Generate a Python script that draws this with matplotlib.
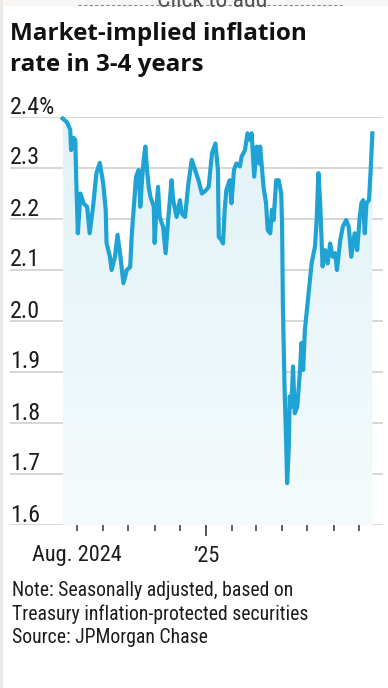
import numpy as np
import pandas as pd
import matplotlib
matplotlib.use("Agg")
import matplotlib.pyplot as plt
import matplotlib.dates as mdates
from matplotlib import font_manager as fm
from matplotlib.transforms import ScaledTranslation
from matplotlib.patches import Rectangle
from matplotlib.lines import Line2D
from matplotlib.colors import LinearSegmentedColormap

# ---------------- data ----------------
dates = [
    "2024-07-15", "2024-07-20", "2024-07-24", "2024-07-25", "2024-07-28", "2024-07-30",
    "2024-07-31", "2024-08-02", "2024-08-05", "2024-08-09", "2024-08-13", "2024-08-16",
    "2024-08-20", "2024-08-24", "2024-08-28", "2024-09-01", "2024-09-04", "2024-09-05",
    "2024-09-09", "2024-09-11", "2024-09-15", "2024-09-18", "2024-09-21", "2024-09-25",
    "2024-09-29", "2024-10-03", "2024-10-05", "2024-10-08", "2024-10-10", "2024-10-13",
    "2024-10-15", "2024-10-17", "2024-10-19", "2024-10-21", "2024-10-23", "2024-10-25",
    "2024-10-27", "2024-10-31", "2024-11-01", "2024-11-03", "2024-11-05", "2024-11-07",
    "2024-11-11", "2024-11-14", "2024-11-17", "2024-11-21", "2024-11-23", "2024-11-27",
    "2024-12-01", "2024-12-03", "2024-12-07", "2024-12-11", "2024-12-15", "2024-12-19",
    "2024-12-23", "2024-12-27", "2024-12-31", "2025-01-04", "2025-01-08", "2025-01-12",
    "2025-01-15", "2025-01-16", "2025-01-19", "2025-01-21", "2025-01-23", "2025-01-25",
    "2025-01-29", "2025-01-31", "2025-02-03", "2025-02-06", "2025-02-10", "2025-02-12",
    "2025-02-16", "2025-02-19", "2025-02-22", "2025-02-24", "2025-02-27", "2025-03-02",
    "2025-03-05", "2025-03-06", "2025-03-10", "2025-03-13", "2025-03-15", "2025-03-18",
    "2025-03-20", "2025-03-22", "2025-03-25", "2025-03-28", "2025-03-31", "2025-04-01",
    "2025-04-02", "2025-04-04", "2025-04-06", "2025-04-07", "2025-04-09", "2025-04-10",
    "2025-04-12", "2025-04-14", "2025-04-16", "2025-04-19", "2025-04-22", "2025-04-24",
    "2025-04-26", "2025-04-28", "2025-05-02", "2025-05-06", "2025-05-10", "2025-05-12",
    "2025-05-14", "2025-05-16", "2025-05-19", "2025-05-22", "2025-05-25", "2025-05-28",
    "2025-05-31", "2025-06-03", "2025-06-05", "2025-06-09", "2025-06-12", "2025-06-16",
    "2025-06-19", "2025-06-22", "2025-06-26", "2025-06-29", "2025-07-02", "2025-07-04",
    "2025-07-06", "2025-07-08", "2025-07-10", "2025-07-13", "2025-07-15", "2025-07-17",
]
values = [
    2.397, 2.390, 2.375, 2.335, 2.359, 2.355,
    2.283, 2.172, 2.250, 2.230, 2.224, 2.172,
    2.224, 2.290, 2.310, 2.270, 2.218, 2.153,
    2.126, 2.100, 2.126, 2.169, 2.133, 2.074,
    2.100, 2.106, 2.172, 2.237, 2.283, 2.296,
    2.224, 2.276, 2.316, 2.342, 2.296, 2.263,
    2.244, 2.224, 2.153, 2.218, 2.263, 2.204,
    2.185, 2.133, 2.198, 2.276, 2.237, 2.204,
    2.237, 2.211, 2.204, 2.270, 2.316, 2.296,
    2.276, 2.250, 2.255, 2.263, 2.329, 2.348,
    2.296, 2.165, 2.159, 2.152, 2.218, 2.257,
    2.276, 2.231, 2.296, 2.309, 2.303, 2.322,
    2.335, 2.368, 2.355, 2.368, 2.283, 2.342,
    2.309, 2.342, 2.263, 2.231, 2.178, 2.172,
    2.218, 2.198, 2.276, 2.276, 2.250, 2.192,
    2.028, 1.865, 1.754, 1.682, 1.754, 1.852,
    1.832, 1.911, 1.819, 1.832, 1.897, 1.957,
    1.904, 1.982, 2.048, 2.113, 2.146, 2.198,
    2.290, 2.237, 2.107, 2.139, 2.113, 2.152,
    2.126, 2.133, 2.100, 2.159, 2.185, 2.198,
    2.185, 2.126, 2.172, 2.139, 2.204, 2.231,
    2.237, 2.172, 2.231, 2.237, 2.296, 2.368,
]
y_ticks = [1.6, 1.7, 1.8, 1.9, 2.0, 2.1, 2.2, 2.3, 2.4]
y_tick_labels = ["1.6", "1.7", "1.8", "1.9", "2.0", "2.1", "2.2", "2.3", "2.4%"]
month_ticks = pd.date_range("2024-08-01", "2025-07-01", freq="MS")
x_label_dates = ["2024-08-01", "2025-01-01"]
x_label_texts = ["Aug. 2024", "\u201925"]
title_lines = ["Market-implied inflation", "rate in 3-4 years"]
note_lines = ["Note: Seasonally adjusted, based on",
              "Treasury inflation-protected securities",
              "Source: JPMorgan Chase"]

# ---------------- fonts ----------------
names = {f.name for f in fm.fontManager.ttflist}
def pick(*cands):
    for c in cands:
        if c in names:
            return c
    return "DejaVu Sans"
narrow = pick("Liberation Sans Narrow", "Roboto Condensed", "Open Sans Condensed", "Liberation Sans")
title_font = pick("Open Sans", "Lato", "Roboto", "Liberation Sans")

W, H = 388, 688
fig = plt.figure(figsize=(W / 100, H / 100), dpi=100)
fig.patch.set_facecolor("#ebe8e6")
fig.add_artist(Rectangle((3 / W, 0), 1, 1 - 6 / H, transform=fig.transFigure,
                         facecolor="white", edgecolor="none", zorder=0))
fig.add_artist(Rectangle((3 / W, 1 - 6 / H), 1, 6 / H, transform=fig.transFigure,
                         facecolor="#f7f6f5", edgecolor="none", zorder=0))

def fx(px):
    return px / W
def fy(py):
    return 1 - py / H

# "Click to add" remnant at top (clipped by the top edge, as in the original)
fig.add_artist(Line2D([fx(78), fx(343)], [fy(5), fy(5)], transform=fig.transFigure,
                      color="#8a8a8a", lw=0.8, ls=(0, (3, 2)), zorder=1))
fig.text(fx(212), fy(7), "Click to add", ha="center", va="baseline",
         fontsize=17, family=narrow, color="#555555", zorder=2)

ax = fig.add_axes([fx(10), fy(525), (383 - 10) / W, (525 - 117) / H])
ax.set_facecolor("none")

x = mdates.date2num(pd.to_datetime(dates))
y = np.array(values)

# gradient fill under line
poly = ax.fill_between(x, y, 1.6, facecolor="none", edgecolor="none")
cmap = LinearSegmentedColormap.from_list("g", ["#f5fbfc", "#e1f2f7"])
grad = np.linspace(0, 1, 256).reshape(-1, 1)
im = ax.imshow(grad, extent=[x.min(), x.max(), 1.6, 2.4], origin="lower",
               cmap=cmap, aspect="auto", zorder=1, interpolation="bilinear")
im.set_clip_path(poly.get_paths()[0], transform=ax.transData)

# grid lines
for v in y_ticks:
    ax.axhline(v, color="#cbcbcb", lw=1.1, zorder=0.5)

ax.plot(x, y, color="#1fa3d4", lw=3.0, solid_joinstyle="round", zorder=3, clip_on=False)

aug1 = mdates.date2num(pd.Timestamp("2024-08-01"))
ax.set_xlim(aug1 - 79.4, aug1 + 362.6)
ax.set_ylim(1.6, 2.4)

for s in ax.spines.values():
    s.set_visible(False)
ax.set_yticks([])
jan = pd.Timestamp("2025-01-01")
ax.set_xticks(mdates.date2num([m for m in month_ticks if m != jan]))
ax.set_xticks(mdates.date2num([jan]), minor=True)
ax.tick_params(axis="x", which="major", length=4, width=1.2, color="#444444",
               direction="out", labelbottom=False)
ax.tick_params(axis="x", which="minor", length=8, width=1.3, color="#444444",
               direction="out", labelbottom=False)

txt_color = "#1c1c1c"
# y labels above gridlines
off = ScaledTranslation(0, 3.5 / 100, fig.dpi_scale_trans)
ylabs = []
for v, lab in zip(y_ticks, y_tick_labels):
    t = ax.text(0, v, lab, transform=ax.get_yaxis_transform() + off, ha="left",
                va="baseline", fontsize=18, family=narrow, color=txt_color)
    ylabs.append(t)

# x labels
offx = ScaledTranslation(0, -36.5 / 100, fig.dpi_scale_trans)
xlabs = []
for d, lab in zip(x_label_dates, x_label_texts):
    t = ax.text(mdates.date2num(pd.Timestamp(d)), 0, lab,
                transform=ax.get_xaxis_transform() + offx, ha="center",
                va="baseline", fontsize=16, family=narrow, color=txt_color)
    xlabs.append(t)

# title
tlines = []
for i, line in enumerate(title_lines):
    t = fig.text(fx(10), fy(40 + 31 * i), line, ha="left", va="baseline",
                 fontsize=16, fontweight="bold", family=title_font, color="#111111")
    tlines.append(t)

# notes
nlines = []
for i, line in enumerate(note_lines):
    t = fig.text(fx(11.5), fy(596 + 23.5 * i), line, ha="left", va="baseline",
                 fontsize=15, family=narrow, color=txt_color)
    nlines.append(t)

# fit font sizes to measured widths
fig.canvas.draw()
r = fig.canvas.get_renderer()
def fit_group(group, ref, target):
    w = ref.get_window_extent(r).width
    s = ref.get_fontsize() * target / w
    for t in group:
        t.set_fontsize(s)

fit_group(tlines, tlines[0], 298)
fit_group(nlines, nlines[1], 298)
fit_group(xlabs, xlabs[0], 90)
fit_group(ylabs, ylabs[7], 30)

fig.savefig("out.png", dpi=100, facecolor=fig.get_facecolor())
